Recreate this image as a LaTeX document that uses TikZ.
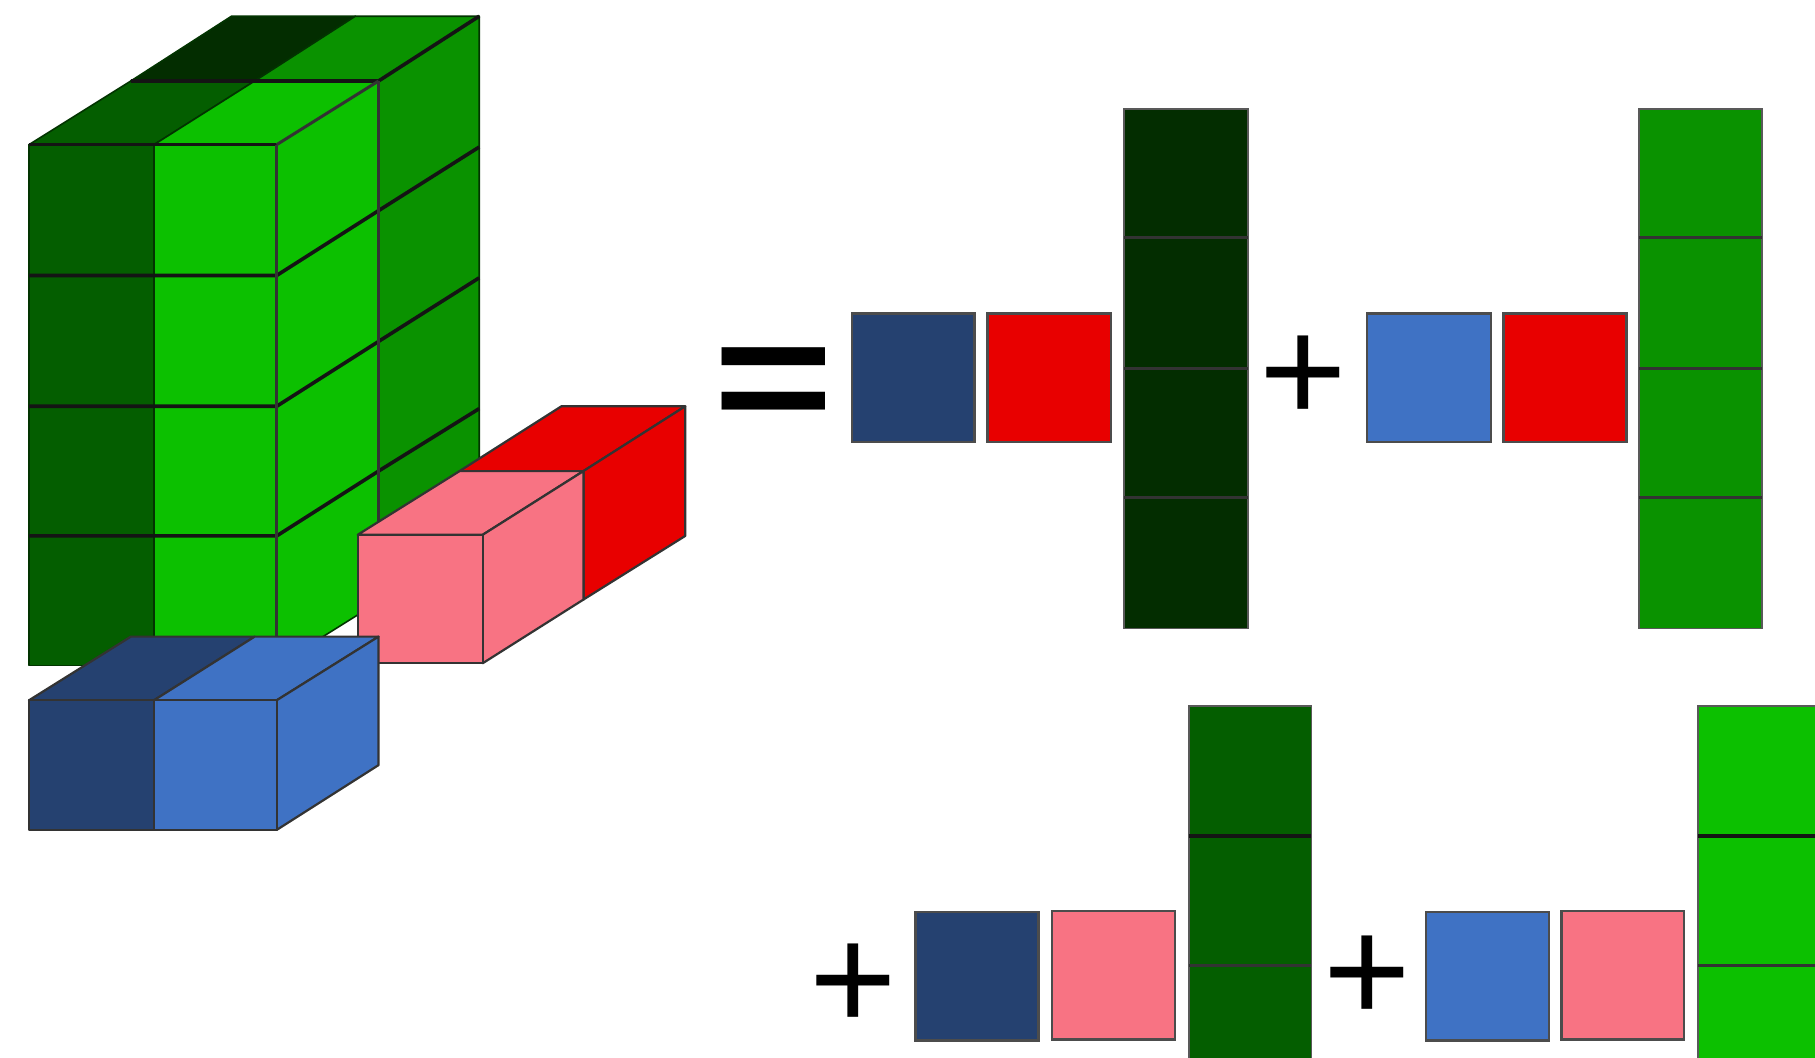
\documentclass[tikz,border=0pt]{standalone}
\usepackage{fontspec}
\setmainfont{Liberation Sans}
\definecolor{gDark}{HTML}{045E00}
\definecolor{gBright}{HTML}{0CC000}
\definecolor{gDeep}{HTML}{032D00}
\definecolor{gMid}{HTML}{0A9200}
\definecolor{cPink}{HTML}{F87383}
\definecolor{cRed}{HTML}{E80000}
\definecolor{cBlue}{HTML}{3F72C4}
\definecolor{cNavy}{HTML}{254170}
\tikzset{
  face/.style={draw=black!80,line width=2.2pt,line join=round},
  softface/.style={draw=black!45!gDark,line width=1.6pt,line join=round},
  grid/.style={draw=black!92,line width=3.6pt},
  thin grid/.style={draw=black!80,line width=3pt},
  square/.style={draw=black!70,line width=2.4pt},
  barbox/.style={draw=black!65,line width=1.8pt},
  sym/.style={inner sep=0pt,outer sep=0pt,font=\fontsize{150}{150}\selectfont}
}
\begin{document}
\begin{tikzpicture}[x=1.1575pt,y=-1.1575pt]
\useasboundingbox (0,0) rectangle (1568,914);
\fill[white] (0,0) rectangle (1568,914);
% main block: top faces
\filldraw[softface,fill=gDeep] (113,70) -- (200,14) -- (307,14) -- (220,70) -- cycle;
\filldraw[softface,fill=gMid] (220,70) -- (307,14) -- (414,14) -- (327,70) -- cycle;
\filldraw[softface,fill=gDark] (25,125) -- (113,70) -- (220,70) -- (133,125) -- cycle;
\filldraw[softface,fill=gBright] (133,125) -- (220,70) -- (327,70) -- (239,125) -- cycle;
% side faces
\filldraw[softface,fill=gMid] (327,70) -- (414,14) -- (414,464) -- (327,520) -- cycle;
\filldraw[softface,fill=gBright] (239,125) -- (327,70) -- (327,520) -- (239,575) -- cycle;
% front faces
\filldraw[softface,fill=gDark] (25,125) rectangle (133,575);
\filldraw[softface,fill=gBright] (133,125) rectangle (239,575);
% grid lines
\draw[grid] (25,125) -- (239,125);
\draw[grid] (25,238) -- (239,238) -- (327,182) -- (414,127);
\draw[grid] (25,351) -- (239,351) -- (327,295) -- (414,240);
\draw[grid] (25,463) -- (239,463) -- (327,407) -- (414,353);
\draw[grid] (113,70) -- (327,70) -- (414,14);
\draw[thin grid] (239,125) -- (239,575);
\draw[thin grid] (327,70) -- (327,520);
\draw[thin grid] (239,125) -- (327,70);
% red and pink block
\filldraw[face,fill=cRed] (397,407) -- (485,351) -- (592,351) -- (504,407) -- cycle;
\filldraw[face,fill=cRed] (504,407) -- (592,351) -- (592,463) -- (504,518) -- cycle;
\filldraw[face,fill=cPink] (309,462) -- (397,407) -- (504,407) -- (417,462) -- cycle;
\filldraw[face,fill=cPink] (417,462) -- (504,407) -- (504,518) -- (417,573) -- cycle;
\filldraw[face,fill=cPink] (309,462) rectangle (417,573);
% blue block
\filldraw[face,fill=cNavy] (25,605) -- (113,550) -- (220,550) -- (133,605) -- cycle;
\filldraw[face,fill=cBlue] (133,605) -- (220,550) -- (327,550) -- (239,605) -- cycle;
\filldraw[face,fill=cBlue] (239,605) -- (327,550) -- (327,661) -- (239,717) -- cycle;
\filldraw[face,fill=cNavy] (25,605) rectangle (133,717);
\filldraw[face,fill=cBlue] (133,605) rectangle (239,717);
% first row
\node[sym,font=\bfseries\fontsize{165}{165}\selectfont,xscale=1.25] (eq) at (668,337.5) {=};
\filldraw[square,fill=cNavy] (736,271) rectangle (842,382);
\filldraw[square,fill=cRed] (853,271) rectangle (960,382);
\filldraw[barbox,fill=gDeep] (971,94) rectangle (1078,543);
\draw[thin grid] (971,205) -- (1078,205) (971,318) -- (1078,318) (971,430) -- (1078,430);
\node[sym] (p1) at (1126,328) {+};
\filldraw[square,fill=cBlue] (1181,271) rectangle (1288,382);
\filldraw[square,fill=cRed] (1299,271) rectangle (1405,382);
\filldraw[barbox,fill=gMid] (1416,94) rectangle (1522,543);
\draw[thin grid] (1416,205) -- (1522,205) (1416,318) -- (1522,318) (1416,430) -- (1522,430);
% second row
\node[sym] (p2) at (737,853) {+};
\filldraw[square,fill=cNavy] (791,788) rectangle (897,899);
\filldraw[square,fill=cPink] (909,787) rectangle (1015,898);
\begin{scope}
\clip (0,0) rectangle (1568,914);
\filldraw[barbox,fill=gDark] (1027,610) rectangle (1133,930);
\draw[grid] (1027,722) -- (1133,722);
\draw[thin grid] (1027,834) -- (1133,834);
\filldraw[barbox,fill=gBright] (1467,610) rectangle (1590,930);
\draw[grid] (1467,722) -- (1568,722);
\draw[thin grid] (1467,834) -- (1568,834);
\end{scope}
\node[sym] (p3) at (1181,846) {+};
\filldraw[square,fill=cBlue] (1232,788) rectangle (1338,899);
\filldraw[square,fill=cPink] (1349,787) rectangle (1455,898);
\end{tikzpicture}
\end{document}
